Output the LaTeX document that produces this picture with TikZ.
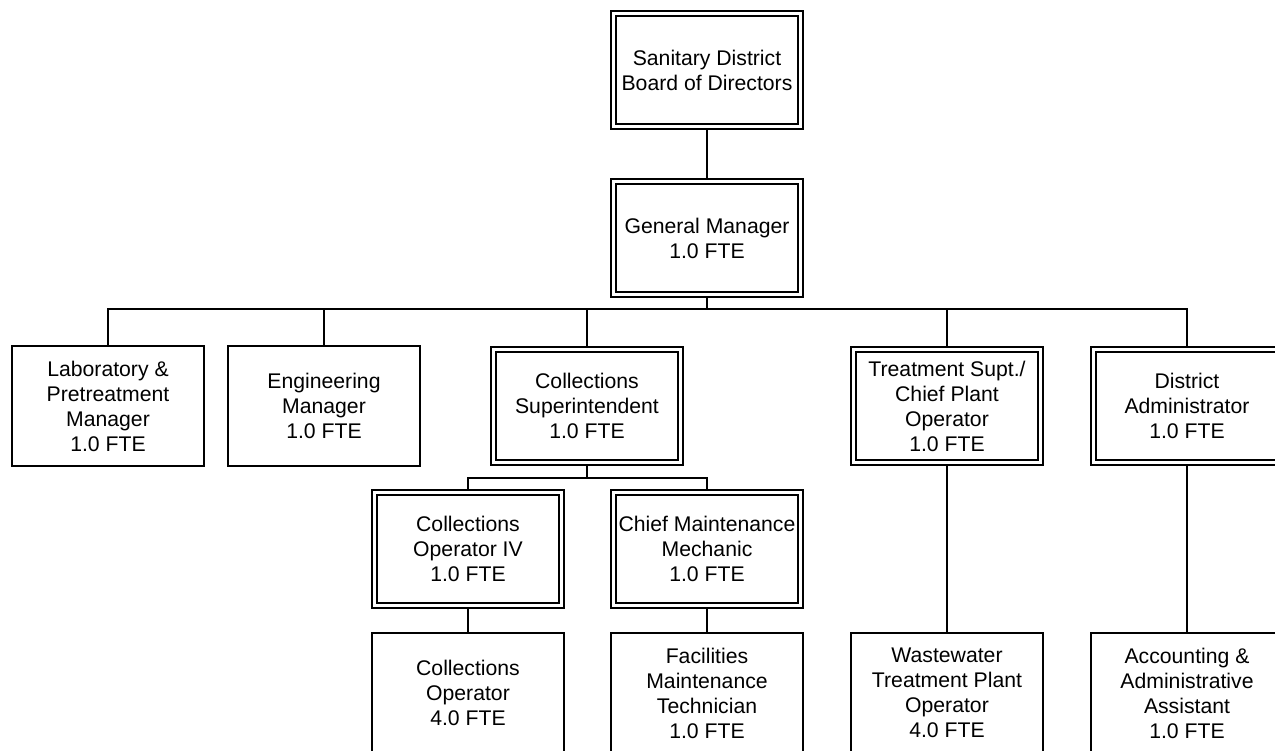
\documentclass[tikz,border=0pt]{standalone}
\usepackage{fontspec}
\setmainfont{Liberation Sans}
\usetikzlibrary{backgrounds}
\tikzset{
  box/.style={draw, line width=2pt, fill=white, minimum width=192pt, minimum height=120pt,
    inner sep=0pt, outer sep=0pt, align=center, font=\fontsize{21.2}{25}\selectfont},
  dbox/.style={box, line width=1.8pt, double, double distance=3.2pt, minimum width=187pt, minimum height=113pt},
  conn/.style={draw, line width=2pt}
}
\begin{document}
\begin{tikzpicture}[x=1pt,y=-1pt]
\useasboundingbox (0,0) rectangle (1275,751);
\clip (0,0) rectangle (1275,751);
\node[dbox] (board) at (707,70) {Sanitary District\\Board of Directors};
\node[dbox] (gm) at (707,238) {General Manager\\1.0 FTE};
\node[box] (lab) at (108,406) {Laboratory \&\\Pretreatment\\Manager\\1.0 FTE};
\node[box] (eng) at (324,406) {Engineering\\Manager\\1.0 FTE};
\node[dbox] (cs) at (587,406) {Collections\\Superintendent\\1.0 FTE};
\node[dbox] (ts) at (947,406) {Treatment Supt./\\Chief Plant\\Operator\\1.0 FTE};
\node[dbox] (da) at (1187,406) {District\\Administrator\\1.0 FTE};
\node[dbox] (coiv) at (468,549) {Collections\\Operator IV\\1.0 FTE};
\node[dbox] (cmm) at (707,549) {Chief Maintenance\\Mechanic\\1.0 FTE};
\node[box] (co) at (468,693) {Collections\\Operator\\4.0 FTE};
\node[box] (fmt) at (707,693) {Facilities\\Maintenance\\Technician\\1.0 FTE};
\node[box] (wtpo) at (947,693) {Wastewater\\Treatment Plant\\Operator\\4.0 FTE};
\node[box] (acc) at (1187,693) {Accounting \&\\Administrative\\Assistant\\1.0 FTE};
\coordinate (bus) at (707,309);
\coordinate (sbus) at (587,478);
\begin{scope}[on background layer]
\draw[conn] (board.south) -- (gm.north);
\draw[conn] (gm.south) -- (bus);
\draw[conn] (bus) -| (lab.north);
\draw[conn] (bus) -| (eng.north);
\draw[conn] (bus) -| (cs.north);
\draw[conn] (bus) -| (ts.north);
\draw[conn] (bus) -| (da.north);
\draw[conn] (cs.south) -- (sbus);
\draw[conn] (sbus) -| (coiv.north);
\draw[conn] (sbus) -| (cmm.north);
\draw[conn] (coiv.south) -- (co.north);
\draw[conn] (cmm.south) -- (fmt.north);
\draw[conn] (ts.south) -- (wtpo.north);
\draw[conn] (da.south) -- (acc.north);
\end{scope}
\end{tikzpicture}
\end{document}
